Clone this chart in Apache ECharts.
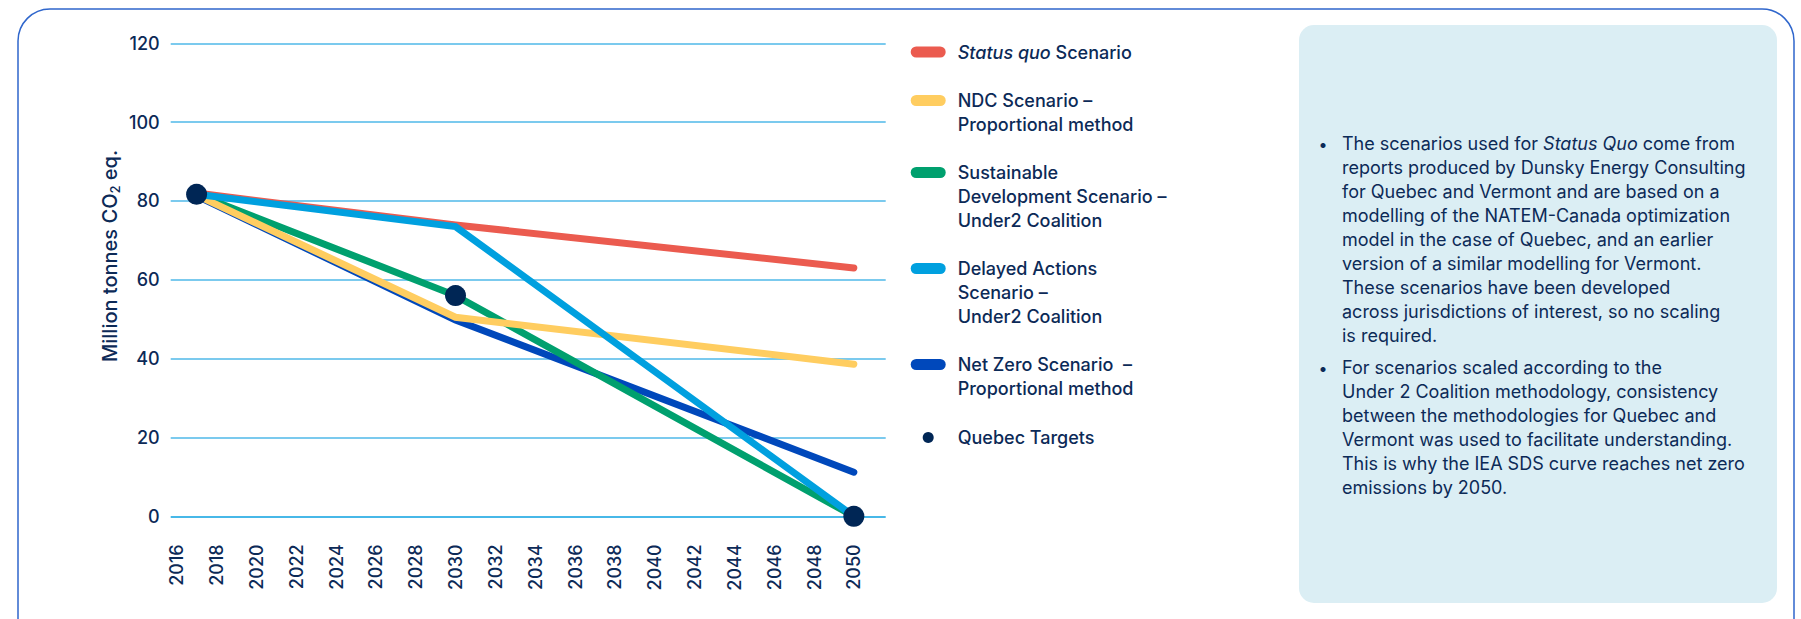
<!DOCTYPE html>
<html>
<head>
<meta charset="utf-8">
<script src="https://cdn.jsdelivr.net/npm/echarts@6/dist/echarts.min.js"></script>
<style>
html,body{margin:0;padding:0;background:#ffffff;}
#c{width:1801px;height:619px;}
</style>
</head>
<body>
<div id="c"></div>
<script>
// ---------- data ----------
const years = [2017, 2030, 2050];
const statusQuo = [82.0, 73.9, 63.0];
const ndc = [81.5, 50.5, 38.6];
const sds = [81.7, 56.0, 0];
const delayed = [81.7, 73.5, 0];
const netZero = [81.3, 49.8, 11.2];
const quebecTargets = [81.7, 56.0, 0];
const xTickLabels = [2016, 2018, 2020, 2022, 2024, 2026, 2028, 2030, 2032, 2034, 2036, 2038, 2040, 2042, 2044, 2046, 2048, 2050];
const yTickValues = [0, 20, 40, 60, 80, 100, 120];

const seriesNames = [
  'Status quo Scenario',
  'NDC Scenario – Proportional method',
  'Sustainable Development Scenario – Under2 Coalition',
  'Delayed Actions Scenario – Under2 Coalition',
  'Net Zero Scenario – Proportional method',
  'Quebec Targets'
];
const legendLabels = [
  '{i|Status quo} Scenario',
  'NDC Scenario –\nProportional method',
  'Sustainable\nDevelopment Scenario –\nUnder2 Coalition',
  'Delayed Actions\nScenario –\nUnder2 Coalition',
  'Net Zero Scenario  –\nProportional method',
  'Quebec Targets'
];
const noteParagraph1 = [
  'The scenarios used for {i|Status Quo} come from',
  'reports produced by Dunsky Energy Consulting',
  'for Quebec and Vermont and are based on a',
  'modelling of the NATEM-Canada optimization',
  'model in the case of Quebec, and an earlier',
  'version of a similar modelling for Vermont.',
  'These scenarios have been developed',
  'across jurisdictions of interest, so no scaling',
  'is required.'
];
const noteParagraph2 = [
  'For scenarios scaled according to the',
  'Under 2 Coalition methodology, consistency',
  'between the methodologies for Quebec and',
  'Vermont was used to facilitate understanding.',
  'This is why the IEA SDS curve reaches net zero',
  'emissions by 2050.'
];

// ---------- styles ----------
const NAVY = '#0c2a57';
const FONT = 'Inter';
const colors = ['#eb5b4f', '#ffcd60', '#00a06e', '#00a0df', '#0048bb', '#002655'];
const pair = arr => years.map((y, i) => [y, arr[i]]);

const chart = echarts.init(document.getElementById('c'), null, {renderer: 'svg'});

function lineSeries(name, data, color, z) {
  return {
    name, type: 'line', data: pair(data), color,
    showSymbol: false, symbol: 'none', z,
    lineStyle: {width: 7, color, cap: 'round', join: 'miter'},
    emphasis: {disabled: true}, animation: false
  };
}

// legend layout: icon aligned with the first text line
const legendIconY = [52, 100.5, 172.5, 268.5, 364.5, 437.5];
const LH = 24;
const LEG_FS = 18;
const pill = 'path://M5.5,0H29.5A5.5,5.5,0,0,1,29.5,11H5.5A5.5,5.5,0,0,1,5.5,0Z';
const legends = seriesNames.map((name, i) => {
  const n = legendLabels[i].split('\n').length;
  const H = LH * (2 * n - 1);
  const isDot = i === 5;
  return {
    left: isDot ? 922.7 : 910.7,
    top: legendIconY[i] - H / 2,
    orient: 'vertical',
    padding: 0,
    itemWidth: isDot ? 11 : 35,
    itemHeight: 11,
    selectedMode: false,
    data: [{
      name,
      icon: isDot ? 'circle' : pill,
      itemStyle: {borderWidth: 0, color: colors[i], opacity: 1}
    }],
    formatter: () => legendLabels[i],
    textStyle: {
      color: NAVY, fontFamily: FONT, fontSize: LEG_FS, fontWeight: 500,
      lineHeight: LH, padding: [(n - 1) * LH, 0, 0, isDot ? 19 : 7],
      rich: {
        i: {fontStyle: 'italic', fontFamily: FONT, fontSize: LEG_FS, fontWeight: 500, color: NAVY, lineHeight: LH}
      }
    }
  };
});

const NOTE_FS = 18;
const noteRich = {
  i: {fontStyle: 'italic', fontFamily: FONT, fontSize: NOTE_FS, color: NAVY, lineHeight: 24}
};
const noteStyle = (text) => ({
  text,
  fill: NAVY,
  font: '400 ' + NOTE_FS + 'px ' + FONT,
  lineHeight: 24,
  textAlign: 'left',
  textVerticalAlign: 'top',
  rich: noteRich
});

const option = {
  animation: false,
  backgroundColor: '#ffffff',
  grid: {left: 170.7, right: 915.3, top: 43.3, bottom: 102.7, containLabel: false},
  xAxis: {
    type: 'value',
    min: 2015.7,
    max: 2051.6,
    axisLine: {show: false},
    axisTick: {show: false},
    splitLine: {show: false},
    axisLabel: {
      customValues: xTickLabels,
      rotate: 90,
      margin: 28,
      color: NAVY,
      fontFamily: FONT,
      fontSize: 18,
      fontWeight: 500,
      formatter: v => String(v)
    }
  },
  yAxis: {
    type: 'value',
    min: yTickValues[0],
    max: yTickValues[yTickValues.length - 1],
    interval: 20,
    axisLine: {show: false},
    axisTick: {show: false},
    axisLabel: {color: NAVY, fontFamily: FONT, fontSize: 18, fontWeight: 500, margin: 11},
    splitLine: {
      show: true,
      lineStyle: {width: 1.5, color: ['#0aa0e0', '#4fb9e8', '#4fb9e8', '#4fb9e8', '#4fb9e8', '#4fb9e8', '#4fb9e8']}
    }
  },
  legend: legends,
  series: [
    lineSeries(seriesNames[0], statusQuo, colors[0], 2),
    lineSeries(seriesNames[4], netZero, colors[4], 3),
    lineSeries(seriesNames[2], sds, colors[2], 4),
    lineSeries(seriesNames[1], ndc, colors[1], 5),
    lineSeries(seriesNames[3], delayed, colors[3], 6),
    {
      name: seriesNames[5], type: 'scatter', data: pair(quebecTargets),
      color: colors[5], symbolSize: 21, z: 10,
      itemStyle: {color: colors[5], opacity: 1},
      emphasis: {disabled: true}
    }
  ],
  graphic: [
    {
      type: 'rect', silent: true, z: -10,
      shape: {x: 18, y: 9, width: 1776, height: 650, r: 32},
      style: {fill: 'none', stroke: '#2f66cc', lineWidth: 1.5}
    },
    {
      type: 'rect', silent: true, z: -9,
      shape: {x: 1299, y: 25, width: 478, height: 578, r: 15},
      style: {fill: '#dbeef4'}
    },
    {type: 'text', silent: true, x: 1323, y: 143.6,
      style: {text: '•', fill: NAVY, font: '400 16px ' + FONT, textAlign: 'center', textVerticalAlign: 'middle'}},
    {type: 'text', silent: true, x: 1342, y: 131.6, style: noteStyle(noteParagraph1.join('\n'))},
    {type: 'text', silent: true, x: 1323, y: 367.7,
      style: {text: '•', fill: NAVY, font: '400 16px ' + FONT, textAlign: 'center', textVerticalAlign: 'middle'}},
    {type: 'text', silent: true, x: 1342, y: 355.7, style: noteStyle(noteParagraph2.join('\n'))},
    {
      type: 'text', silent: true, x: 109.5, y: 256, rotation: Math.PI / 2,
      style: {
        text: 'Million tonnes CO{sub|2} eq.',
        fill: NAVY, font: '500 20px ' + FONT, lineHeight: 24,
        textAlign: 'center', textVerticalAlign: 'middle',
        rich: {sub: {fontFamily: FONT, fontSize: 13, fontWeight: 500, fill: NAVY, color: NAVY, lineHeight: 13, verticalAlign: 'bottom'}}
      }
    }
  ]
};
chart.setOption(option);
</script>
</body>
</html>
